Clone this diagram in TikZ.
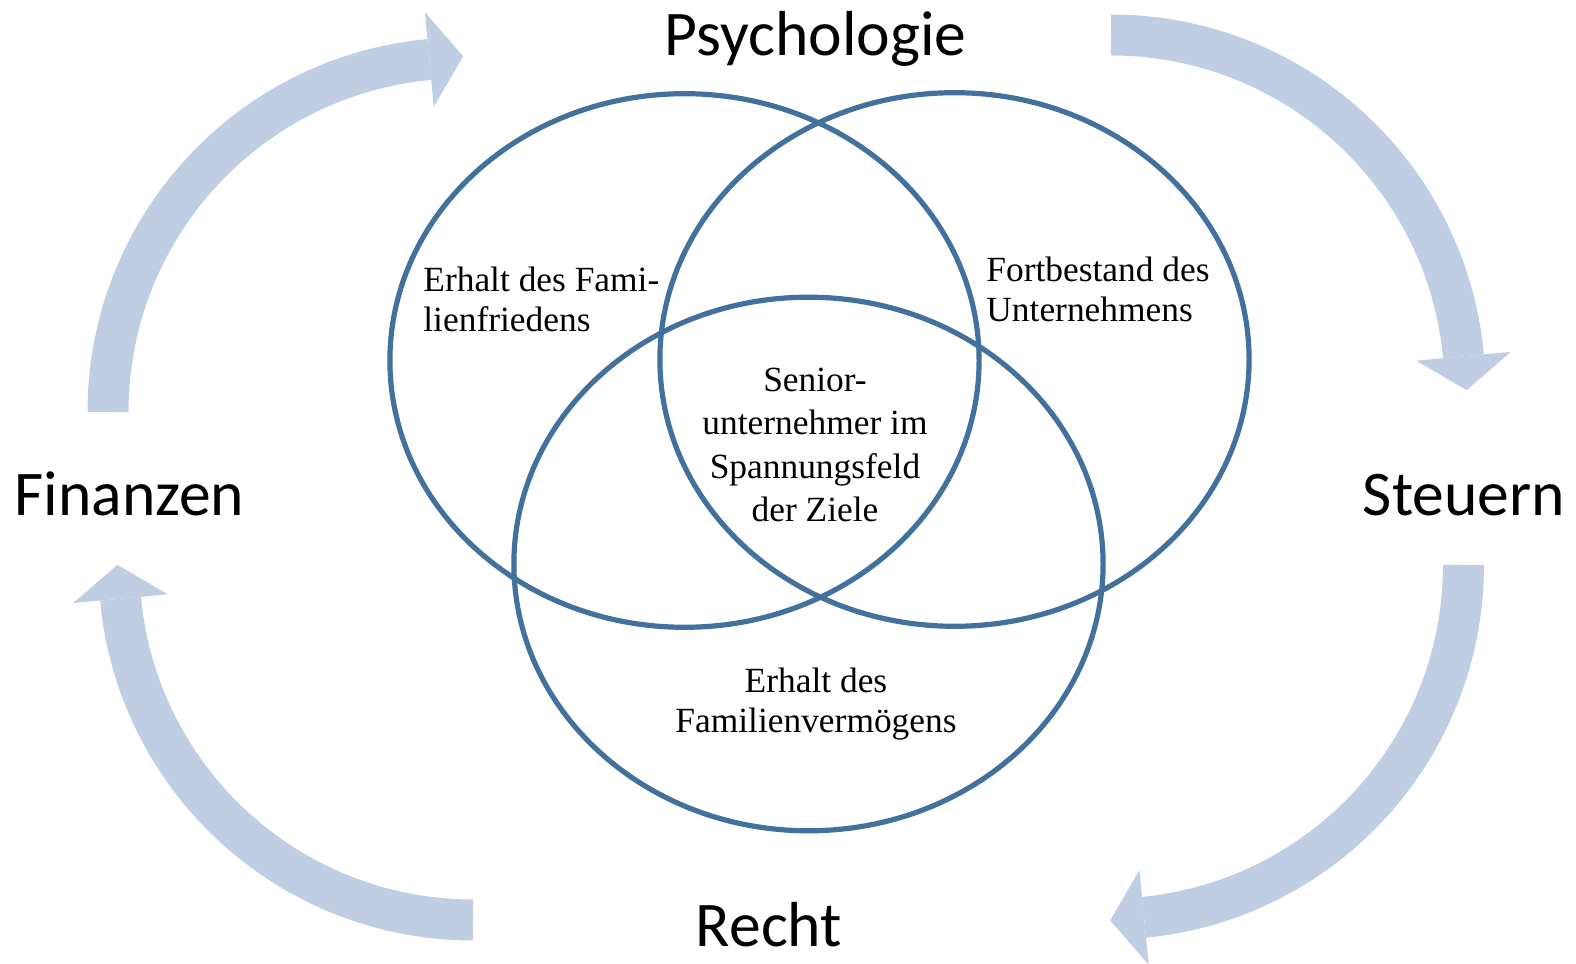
\documentclass[tikz,border=0pt]{standalone}
\usepackage{fontspec}
\setmainfont{Liberation Serif}
\newfontfamily\labelfont{Carlito}
\usetikzlibrary{calc}
\definecolor{ringc}{HTML}{41719C}
\definecolor{flowc}{HTML}{BFCEE3}
\begin{document}
\begin{tikzpicture}[x=0.5pt,y=0.5pt,
  ring/.style={draw=ringc, line width=2.6pt},
  shaft/.style={draw=flowc, line width=20.5pt},
  tiphead/.style={fill=flowc},
  area/.style={font=\labelfont\fontsize{31.8}{37}\selectfont, inner sep=0pt, anchor=base},
  goal/.style={font=\fontsize{17.7}{20}\selectfont, inner sep=0pt},
  goalc/.style={font=\fontsize{17.7}{21.8}\selectfont, inner sep=0pt}]
\useasboundingbox (0,0) rectangle (1576,964);

% circular arrows
\coordinate (tlS) at (108,552);
\draw[shaft] (tlS) arc[start angle=180, end angle=95.3, radius=177pt] coordinate (tlE);
\fill[tiphead] ($(tlE)+(95.3:47.5)$) -- ($(tlE)+(5.3:34)$) -- ($(tlE)+(275.3:47.5)$) -- cycle;

\coordinate (trS) at (1111,929);
\draw[shaft] (trS) arc[start angle=90, end angle=5.3, radius=177pt] coordinate (trE);
\fill[tiphead] ($(trE)+(5.3:47.5)$) -- ($(trE)+(-84.7:34)$) -- ($(trE)+(185.3:47.5)$) -- cycle;

\coordinate (brS) at (1463.5,399);
\draw[shaft] (brS) arc[start angle=0, end angle=-84.4, radius=177pt] coordinate (brE);
\fill[tiphead] ($(brE)+(-84.4:47.5)$) -- ($(brE)+(-174.4:34)$) -- ($(brE)+(95.6:47.5)$) -- cycle;

\coordinate (blS) at (473,44);
\draw[shaft] (blS) arc[start angle=270, end angle=185.3, radius=177pt] coordinate (blE);
\fill[tiphead] ($(blE)+(185.3:47.5)$) -- ($(blE)+(95.3:34)$) -- ($(blE)+(5.3:47.5)$) -- cycle;

% Venn ellipses
\draw[ring] (684.5,603.5) ellipse [x radius=147.3pt, y radius=133.4pt];
\draw[ring] (954.5,604.5) ellipse [x radius=147.3pt, y radius=133.4pt];
\draw[ring] (808.5,400) ellipse [x radius=147.3pt, y radius=133.4pt];

% area labels
\node[area] (psy) at (815.5,908) {Psychologie};
\node[area] (fin) at (129.5,448) {Finanzen};
\node[area] (steu) at (1464,448) {Steuern};
\node[area] (recht) at (769,17) {Recht};

% goals (base anchor = baseline of the last line)
\node[goal, align=left, anchor=base west] (friede) at (423,632) {Erhalt des Fami-\\lienfriedens};
\node[goal, align=left, anchor=base west] (fort) at (986,642) {Fortbestand des\\Unternehmens};
\node[goalc, align=center, anchor=base] (senior) at (815,442) {Senior-\\unternehmer im\\Spannungsfeld\\der Ziele};
\node[goal, align=center, anchor=base] (verm) at (816,231) {Erhalt des\\Familienvermögens};
\end{tikzpicture}
\end{document}
